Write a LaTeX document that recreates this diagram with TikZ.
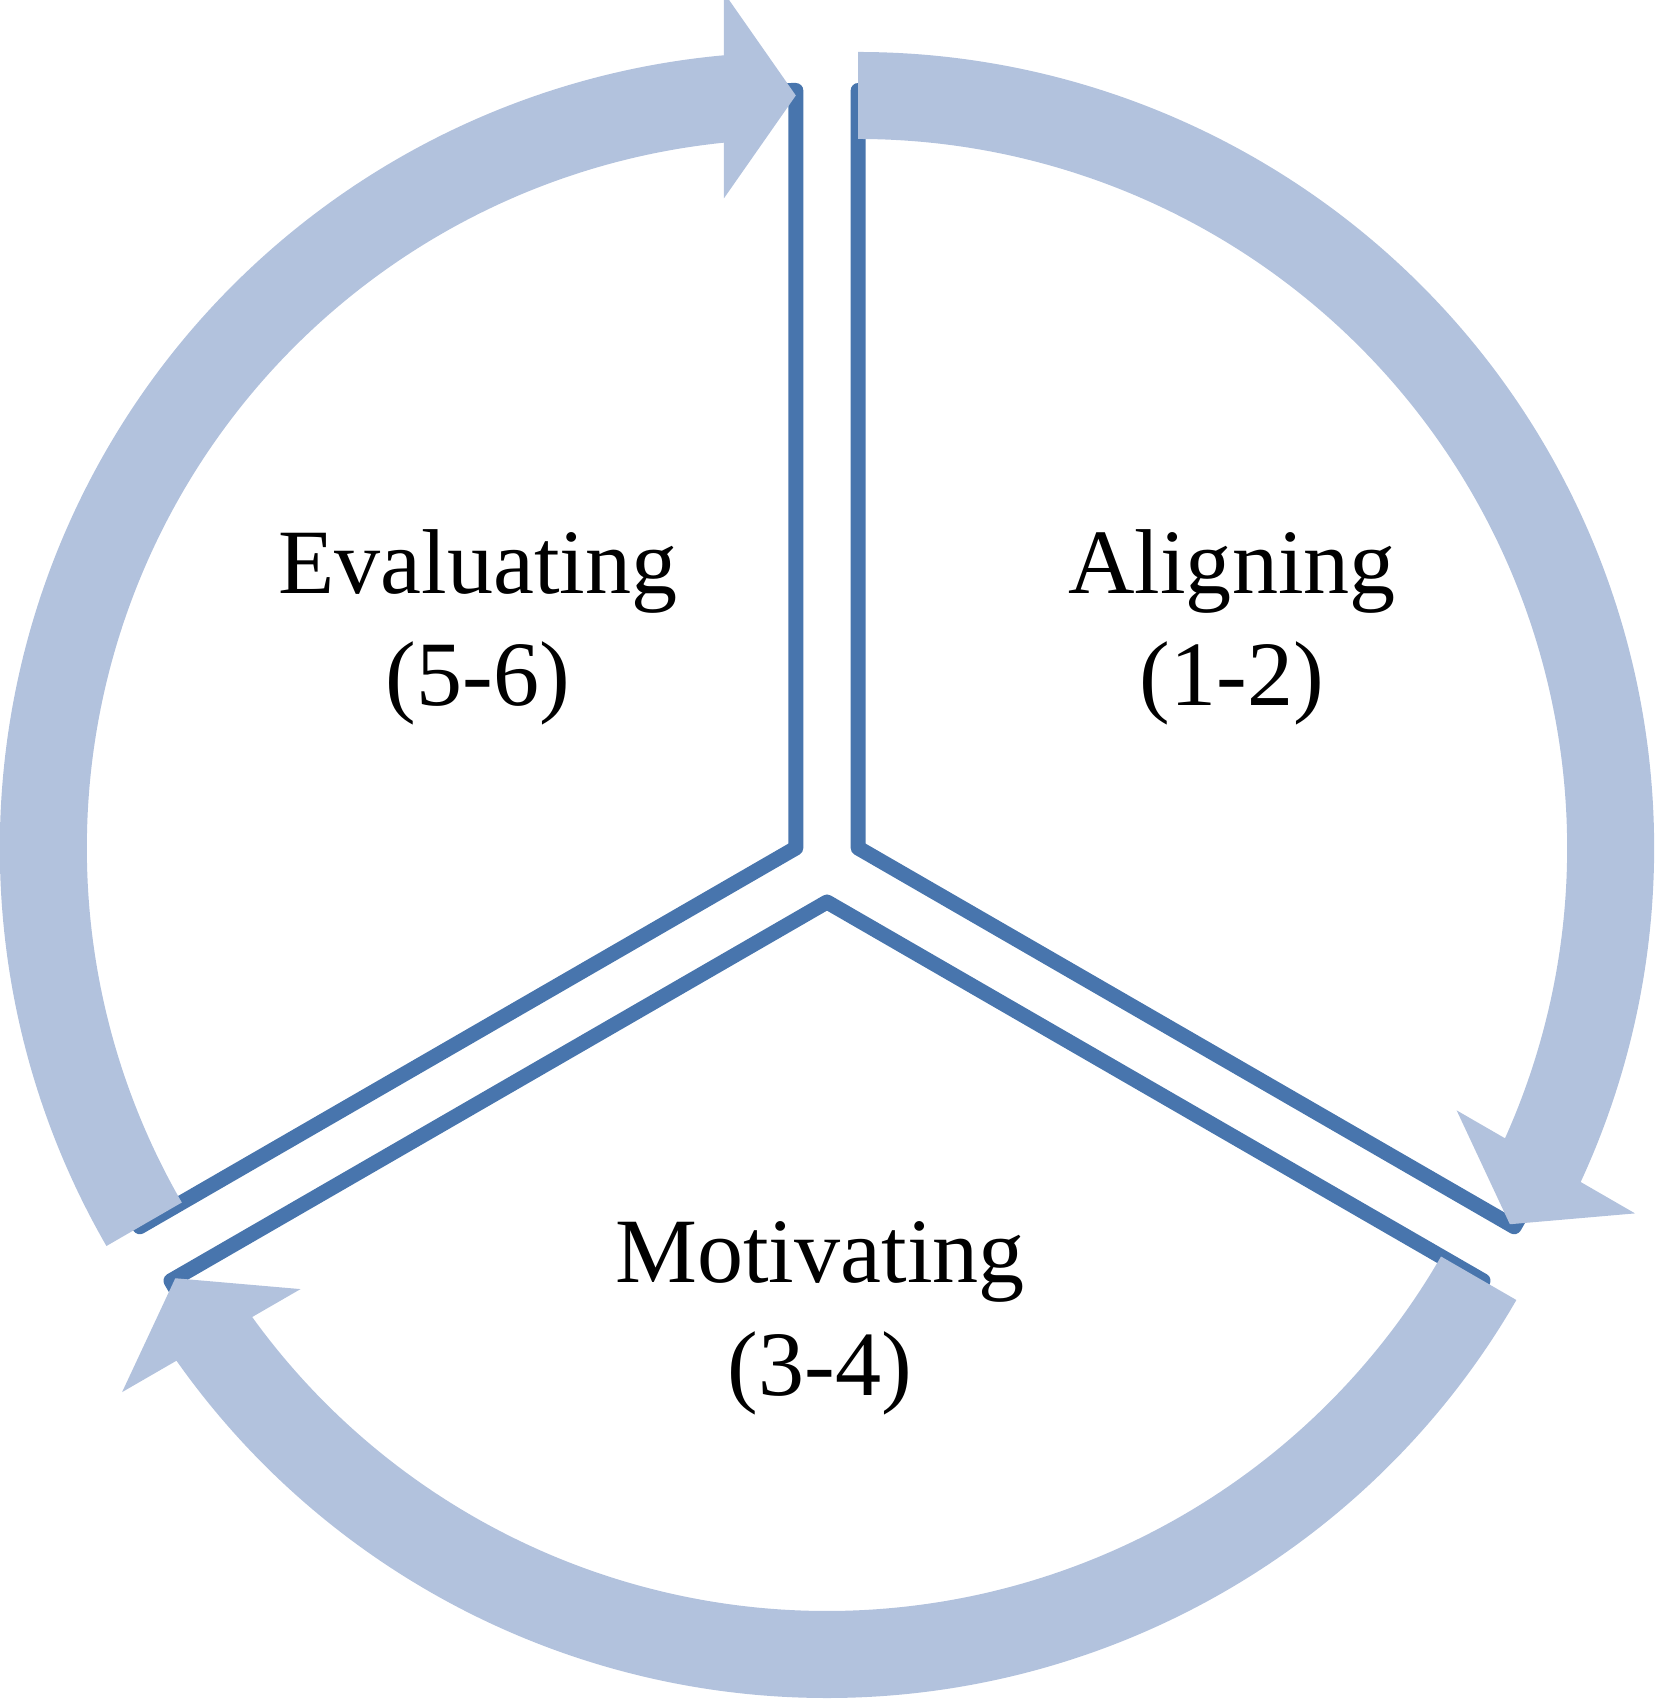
\documentclass[tikz,border=0pt]{standalone}
\usepackage{fontspec}
\setmainfont{Liberation Serif}
\usetikzlibrary{calc}

\definecolor{ringblue}{RGB}{178,194,221}
\definecolor{edgeblue}{RGB}{72,117,173}

\begin{document}
\begin{tikzpicture}[x=0.1mm,y=0.1mm,
		sectorline/.style={draw=edgeblue,line width=1.5mm,line join=round},
		cyclearrow/.style={fill=ringblue},
		stage/.style={align=center,anchor=base,inner sep=0pt,font=\fontsize{26.2}{32}\selectfont}]
			\useasboundingbox (-827,-833) rectangle (827,866);
			\foreach \r in {0,-120,120}{
				\begin{scope}[rotate=\r]
					\draw[sectorline] (150:36) -- ++(210:757.5) arc[start angle=210,end angle=90,radius=757.5] -- cycle;
				\end{scope}
			}
			\foreach \r in {0,-120,120}{
				\begin{scope}[rotate=\r,shift={(150:36)}]
					\fill[cyclearrow] (210:709) -- (210:796) arc[start angle=210,end angle=95.19,radius=796] -- (-72,855.5) -- (0,752.5) -- (-72,649.5) -- (95.83:709) arc[start angle=95.83,end angle=210,radius=709] -- cycle;
				\end{scope}
			}
			\node[stage] (evaluating) at (-349,160) {Evaluating\\(5-6)};
			\node[stage] (aligning) at (405,160) {Aligning\\(1-2)};
			\node[stage] (motivating) at (-7,-529) {Motivating\\(3-4)};
		\end{tikzpicture}
\end{document}
